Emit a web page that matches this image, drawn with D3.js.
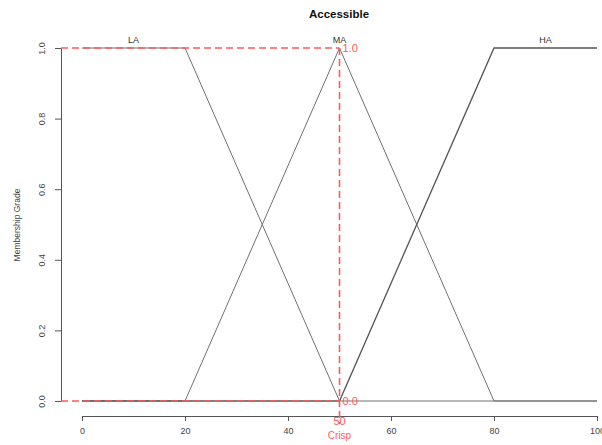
<!DOCTYPE html>
<html>
<head>
<meta charset="utf-8">
<script src="https://cdn.jsdelivr.net/npm/d3@7"></script>
<style>
  body { margin: 0; background: #fff; }
  svg { display: block; font-family: "Liberation Sans", Arial, sans-serif; }
</style>
</head>
<body>
<svg id="chart" width="602" height="445"></svg>
<script>
// Membership functions of the fuzzy variable "Accessible" (x: universe, y: grade)
const setNames = ["LA", "MA", "HA"];
const setLabelX = [10, 50, 90];
const laPoints = [[0, 1], [20, 1], [50, 0], [100, 0]];
const maPoints = [[0, 0], [20, 0], [50, 1], [80, 0], [100, 0]];
const haPoints = [[0, 0], [50, 0], [80, 1], [100, 1]];
const xTicks = [0, 20, 40, 60, 80, 100];
const yTicks = [0, 0.2, 0.4, 0.6, 0.8, 1.0];
const crispValue = 50;
const crispGrades = [1.0, 0.0];

const svg = d3.select("#chart");
const x = d3.scaleLinear().domain([0, 100]).range([82, 597]);
const y = d3.scaleLinear().domain([0, 1]).range([401, 48]);

const grey = "#707070";
const red = "#ff5a5a";

// Title
svg.append("text").attr("x", 339).attr("y", 18).attr("text-anchor", "middle")
  .attr("font-size", 11.5).attr("font-weight", "bold").attr("fill", "#111").text("Accessible");

// Y axis
const yAxis = svg.append("g").attr("transform", "translate(61,0)")
  .call(d3.axisLeft(y).tickValues(yTicks).tickFormat(d3.format(".1f")).tickSize(6).tickSizeOuter(0));
yAxis.select(".domain").attr("stroke", "#555");
yAxis.selectAll(".tick line").attr("stroke", "#555");
yAxis.selectAll(".tick text")
  .attr("font-size", 9).attr("fill", "#444").attr("font-family", "Liberation Sans, Arial, sans-serif")
  .attr("text-anchor", "middle").attr("x", 0).attr("dy", 0)
  .attr("transform", "translate(-19,0) rotate(-90)").attr("y", 3);

// X axis
const xAxis = svg.append("g").attr("transform", "translate(0,416)")
  .call(d3.axisBottom(x).tickValues(xTicks).tickSize(5).tickSizeOuter(0));
xAxis.select(".domain").attr("stroke", "#555");
xAxis.selectAll(".tick line").attr("stroke", "#555");
xAxis.selectAll(".tick text")
  .attr("font-size", 9).attr("fill", "#444").attr("font-family", "Liberation Sans, Arial, sans-serif")
  .attr("y", 12);

// Axis title
svg.append("text").attr("transform", "translate(20,225) rotate(-90)").attr("text-anchor", "middle")
  .attr("font-size", 8.5).attr("fill", "#444").text("Membership Grade");

// Membership curves
const line = d3.line().x(d => x(d[0])).y(d => y(d[1]));
[laPoints, maPoints, haPoints].forEach((pts, i) => {
  svg.append("path").attr("d", line(pts)).attr("fill", "none")
    .attr("stroke", i === 2 ? "#555" : grey).attr("stroke-width", i === 2 ? 1.3 : 1);
});

// Set labels
setNames.forEach((name, i) => {
  svg.append("text").attr("x", x(setLabelX[i])).attr("y", 43).attr("text-anchor", "middle")
    .attr("font-size", 9).attr("fill", "#333").text(name);
});

// Crisp input projections
const guides = svg.append("g").attr("stroke", red).attr("stroke-width", 1.6)
  .attr("stroke-dasharray", "7,4").attr("fill", "none");
crispGrades.forEach(g => {
  guides.append("line").attr("x1", 61).attr("x2", x(crispValue)).attr("y1", y(g)).attr("y2", y(g));
});
guides.append("line").attr("x1", x(crispValue)).attr("x2", x(crispValue))
  .attr("y1", y(d3.max(crispGrades))).attr("y2", 424);

crispGrades.forEach(g => {
  svg.append("text").attr("x", x(crispValue) + 3).attr("y", y(g) + 4)
    .attr("font-size", 11).attr("fill", red).text(d3.format(".1f")(g));
});
svg.append("text").attr("x", x(crispValue)).attr("y", 425).attr("text-anchor", "middle")
  .attr("font-size", 11).attr("fill", red).text(crispValue);
svg.append("text").attr("x", x(crispValue)).attr("y", 439).attr("text-anchor", "middle")
  .attr("font-size", 10).attr("fill", red).text("Crisp");
</script>
</body>
</html>
